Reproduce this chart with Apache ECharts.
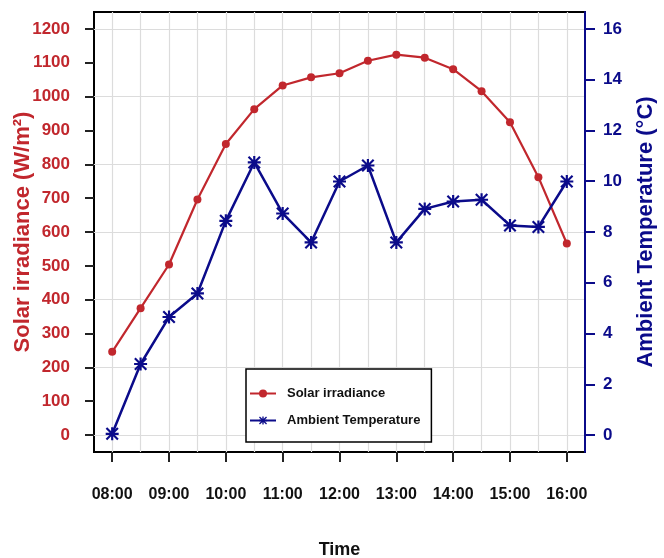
<!DOCTYPE html>
<html>
<head>
<meta charset="utf-8">
<script src="https://cdn.jsdelivr.net/npm/echarts@6/dist/echarts.min.js"></script>
<style>
  html, body { margin: 0; padding: 0; background: #fff; }
  #chart { width: 664px; height: 558px; }
</style>
</head>
<body>
<div id="chart"></div>
<script>
// time of day, every half hour
const times = ['08:00', '08:30', '09:00', '09:30', '10:00', '10:30', '11:00', '11:30', '12:00',
  '12:30', '13:00', '13:30', '14:00', '14:30', '15:00', '15:30', '16:00'];
// solar irradiance (W/m2)
const irradiance = [246, 375, 504, 696, 860, 963, 1033, 1057, 1069,
  1106, 1124, 1115, 1081, 1016, 924, 762, 566];
// ambient temperature (°C)
const temperature = [0.05, 2.8, 4.65, 5.58, 8.44, 10.74, 8.73, 7.59, 9.99,
  10.62, 7.59, 8.91, 9.2, 9.27, 8.26, 8.2, 9.99];
// tick labels
const timeTicks = ['08:00', '09:00', '10:00', '11:00', '12:00', '13:00', '14:00', '15:00', '16:00'];
const irrTicks = [0, 100, 200, 300, 400, 500, 600, 700, 800, 900, 1000, 1100, 1200];
const irrGrid = [0, 200, 400, 600, 800, 1000, 1200];
const tempTicks = [0, 2, 4, 6, 8, 10, 12, 14, 16];

const toHour = t => Number(t.slice(0, 2)) + Number(t.slice(3)) / 60;
const fmtHour = h => (h < 10 ? '0' : '') + Math.round(h) + ':00';

const RED = '#c1272d';
const BLUE = '#0b0b8a';
const FONT = '"Liberation Sans", Arial, sans-serif';
// asterisk marker
const STAR = 'path://M0 10H24V14H0Z M10 0H14V24H10Z M0 2.8L2.8 0L24 21.2L21.2 24Z M21.2 0L24 2.8L2.8 24L0 21.2Z';

const chart = echarts.init(document.getElementById('chart'));
chart.setOption({
  animation: false,
  backgroundColor: '#fff',
  grid: {
    left: 94, right: 79, top: 12, bottom: 106,
    outerBoundsMode: 'none', containLabel: false,
    show: true, borderColor: '#000', borderWidth: 2
  },
  legend: {
    orient: 'vertical',
    left: 246, top: 369,
    padding: [18, 11, 15, 3],
    itemGap: 14,
    itemWidth: 26, itemHeight: 10,
    borderColor: '#000', borderWidth: 1.5,
    backgroundColor: '#fff',
    textStyle: { fontFamily: FONT, fontSize: 13, fontWeight: 'bold', color: '#111', padding: [0, 0, 0, 6] },
    data: ['Solar irradiance', 'Ambient Temperature']
  },
  xAxis: [
    {
      type: 'value', min: 7.68, max: 16.32,
      name: 'Time', nameLocation: 'middle', nameGap: 89, nameMoveOverlap: false,
      nameTextStyle: { fontFamily: FONT, fontSize: 18, fontWeight: 'bold', color: '#111' },
      axisLine: { show: false, onZero: false },
      axisTick: { show: true, length: 10, lineStyle: { color: '#222', width: 2 },
        customValues: timeTicks.map(toHour) },
      axisLabel: { customValues: timeTicks.map(toHour), formatter: fmtHour, margin: 35,
        fontFamily: FONT, fontSize: 16, fontWeight: 'bold', color: '#111' },
      splitLine: { show: false }
    },
    {
      // half-hour vertical grid
      type: 'value', min: 7.68, max: 16.32, position: 'top',
      axisLine: { show: false, onZero: false },
      axisTick: { show: false, customValues: times.map(toHour) },
      axisLabel: { show: false },
      splitLine: { show: true, lineStyle: { color: '#dcdcdc', width: 1.2 } }
    }
  ],
  yAxis: [
    {
      type: 'value', min: -50, max: 1250, position: 'left',
      name: 'Solar irradiance (W/m²)', nameLocation: 'middle', nameGap: 60, nameRotate: 90,
      nameMoveOverlap: false,
      nameTextStyle: { fontFamily: FONT, fontSize: 22, fontWeight: 'bold', color: RED },
      axisLine: { show: false, onZero: false },
      axisTick: { show: true, length: 9, lineStyle: { color: '#222', width: 2 }, customValues: irrTicks },
      axisLabel: { customValues: irrTicks, margin: 24, formatter: v => String(v),
        fontFamily: FONT, fontSize: 17, fontWeight: 'bold', color: RED },
      splitLine: { show: false }
    },
    {
      type: 'value', min: -50 / 75, max: 1250 / 75, position: 'right',
      name: 'Ambient Temperature (°C)', nameLocation: 'middle', nameGap: 50, nameRotate: 90,
      nameMoveOverlap: false,
      nameTextStyle: { fontFamily: FONT, fontSize: 22, fontWeight: 'bold', color: BLUE },
      axisLine: { show: true, onZero: false, lineStyle: { color: BLUE, width: 2 } },
      axisTick: { show: true, length: 10, lineStyle: { color: BLUE, width: 2 }, customValues: tempTicks },
      axisLabel: { customValues: tempTicks, margin: 18, formatter: v => String(v),
        fontFamily: FONT, fontSize: 17, fontWeight: 'bold', color: BLUE },
      splitLine: { show: false }
    },
    {
      // horizontal grid every 200 W/m2
      type: 'value', min: -50, max: 1250, position: 'left',
      axisLine: { show: false, onZero: false },
      axisTick: { show: false, customValues: irrGrid },
      axisLabel: { show: false },
      splitLine: { show: true, lineStyle: { color: '#dcdcdc', width: 1.2 } }
    }
  ],
  series: [
    {
      name: 'Solar irradiance', type: 'line',
      xAxisIndex: 0, yAxisIndex: 0,
      data: times.map((t, i) => [toHour(t), irradiance[i]]),
      symbol: 'circle', symbolSize: 8,
      itemStyle: { color: RED },
      lineStyle: { color: RED, width: 2.2 },
      z: 3
    },
    {
      name: 'Ambient Temperature', type: 'line',
      xAxisIndex: 0, yAxisIndex: 1,
      data: times.map((t, i) => [toHour(t), temperature[i]]),
      symbol: STAR, symbolSize: 13,
      itemStyle: { color: BLUE },
      lineStyle: { color: BLUE, width: 2.5 },
      z: 4
    }
  ]
});
</script>
</body>
</html>
